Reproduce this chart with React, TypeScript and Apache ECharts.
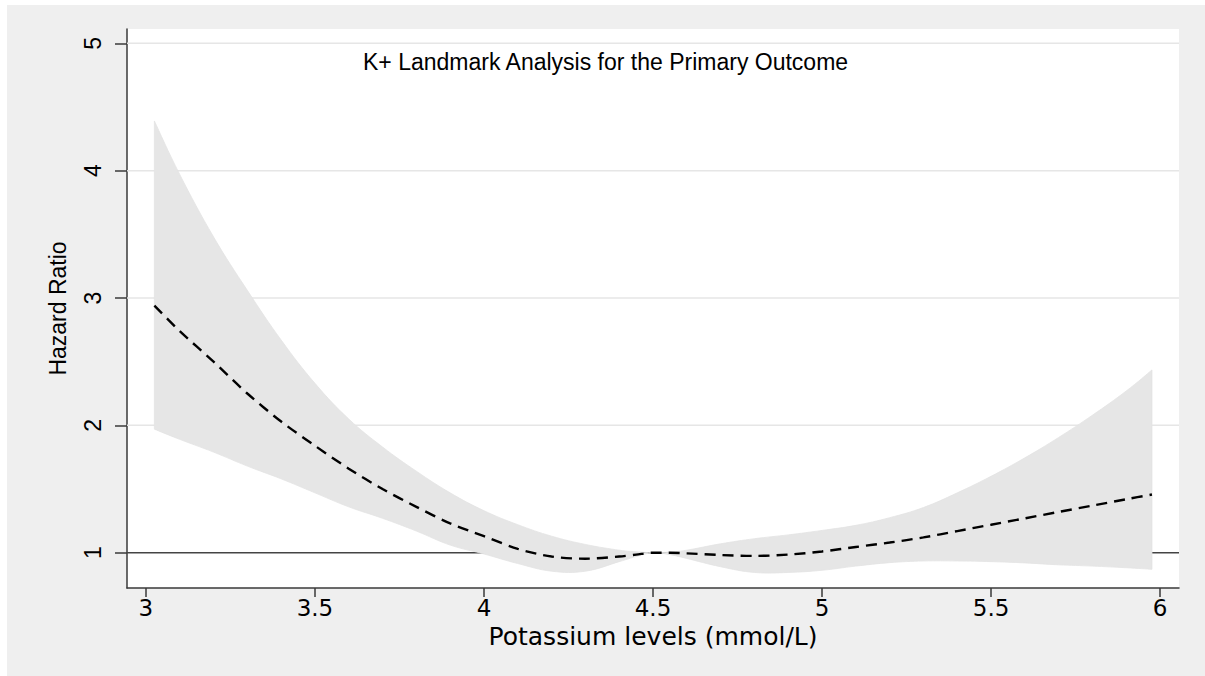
import React, { useEffect, useRef } from "react";
import * as echarts from "echarts";

// Potassium levels (x) at which the curves were read
const kx = [3.025, 3.1, 3.2, 3.3, 3.4, 3.5, 3.6, 3.7, 3.8, 3.9, 4.0, 4.1, 4.2, 4.3, 4.4, 4.45, 4.5, 4.55, 4.6, 4.7, 4.8, 4.9, 5.0, 5.1, 5.2, 5.3, 5.4, 5.5, 5.6, 5.7, 5.8, 5.9, 5.976];
// Hazard ratio (dashed line)
const hr = [2.94, 2.74, 2.5, 2.25, 2.03, 1.84, 1.66, 1.5, 1.36, 1.23, 1.13, 1.03, 0.97, 0.953, 0.97, 0.985, 1.0, 1.0, 0.995, 0.982, 0.975, 0.985, 1.01, 1.045, 1.08, 1.12, 1.17, 1.22, 1.27, 1.32, 1.37, 1.42, 1.457];
// Upper confidence bound
const hi = [4.39, 3.97, 3.48, 3.06, 2.67, 2.33, 2.05, 1.83, 1.64, 1.47, 1.33, 1.22, 1.13, 1.065, 1.02, 1.008, 1.0, 1.006, 1.02, 1.07, 1.11, 1.14, 1.175, 1.215, 1.275, 1.355, 1.47, 1.6, 1.745, 1.905, 2.08, 2.27, 2.435];
// Lower confidence bound
const lo = [1.97, 1.89, 1.79, 1.68, 1.58, 1.47, 1.36, 1.27, 1.17, 1.06, 0.99, 0.915, 0.855, 0.855, 0.93, 0.97, 1.0, 0.985, 0.955, 0.89, 0.845, 0.845, 0.862, 0.895, 0.922, 0.935, 0.935, 0.93, 0.92, 0.905, 0.895, 0.882, 0.87];

const xTicks = [3, 3.5, 4, 4.5, 5, 5.5, 6];
const yTicks = [1, 2, 3, 4, 5];
const gridLevels = [2, 3, 4, 5];
const refLevel = 1;

const titleText = "K+ Landmark Analysis for the Primary Outcome";
const xName = "Potassium levels (mmol/L)";
const yName = "Hazard Ratio";

// Catmull-Rom style cubic segments through pixel points (rendering only)
function curvePath(pts: number[][], start: boolean): string {
  let d = start ? `M${pts[0][0]},${pts[0][1]}` : `L${pts[0][0]},${pts[0][1]}`;
  const n = pts.length;
  const t = 0.2;
  for (let i = 0; i < n - 1; i++) {
    const p0 = pts[Math.max(0, i - 1)];
    const p1 = pts[i];
    const p2 = pts[i + 1];
    const p3 = pts[Math.min(n - 1, i + 2)];
    const c1x = p1[0] + (p2[0] - p0[0]) * t;
    const c1y = p1[1] + (p2[1] - p0[1]) * t;
    const c2x = p2[0] - (p3[0] - p1[0]) * t;
    const c2y = p2[1] - (p3[1] - p1[1]) * t;
    d += ` C${c1x},${c1y} ${c2x},${c2y} ${p2[0]},${p2[1]}`;
  }
  return d;
}

export default function App() {
  const ref = useRef<HTMLDivElement>(null);

  useEffect(() => {
    if (!ref.current) return;
    const chart = echarts.init(ref.current, undefined, { renderer: "svg" });
    const axisColor = "#3a3a3a";
    const levels = [...gridLevels.map((v) => ({ v, ref: false })), { v: refLevel, ref: true }];
    const option: any = {
      animation: false,
      backgroundColor: "#efefef",
      title: {
        text: titleText,
        left: 351,
        top: 40,
        textStyle: {
          fontFamily: "Liberation Sans",
          fontSize: 23,
          fontWeight: "normal",
          color: "#000",
        },
      },
      grid: {
        left: 120,
        top: 24,
        right: 26,
        bottom: 88,
        show: true,
        backgroundColor: "#ffffff",
        borderWidth: 0,
      },
      xAxis: {
        type: "value",
        min: 2.944,
        max: 6.056,
        name: xName,
        nameLocation: "middle",
        nameGap: 36,
        nameTextStyle: { fontFamily: "DejaVu Sans", fontSize: 25, color: "#000" },
        axisLine: { show: true, lineStyle: { color: axisColor, width: 1.5 } },
        axisTick: { show: true, length: 9, customValues: xTicks, lineStyle: { color: axisColor, width: 1.5 } },
        axisLabel: {
          customValues: xTicks,
          margin: 8,
          fontFamily: "DejaVu Sans",
          fontSize: 23,
          color: "#000",
        },
        splitLine: { show: false },
      },
      yAxis: {
        type: "value",
        min: 0.723,
        max: 5.112,
        name: yName,
        nameLocation: "middle",
        nameGap: 58,
        nameTextStyle: { fontFamily: "Liberation Sans", fontSize: 23, color: "#000" },
        axisLine: { show: true, lineStyle: { color: axisColor, width: 1.5 } },
        axisTick: { show: true, length: 12, customValues: yTicks, lineStyle: { color: axisColor, width: 1.5 } },
        axisLabel: {
          customValues: yTicks,
          rotate: 90,
          margin: 23,
          fontFamily: "Liberation Sans",
          fontSize: 23,
          color: "#000",
        },
        splitLine: { show: false },
      },
      series: [
        {
          name: "levels",
          type: "custom",
          data: levels.map((l) => [l.v]),
          z: 1,
          silent: true,
          renderItem: (params: any, api: any) => {
            const idx = params.dataIndex;
            const v = api.value(0);
            const cs = params.coordSys;
            const y = api.coord([4.5, v])[1];
            const isRef = levels[idx].ref;
            return {
              type: "line",
              shape: { x1: cs.x, y1: y, x2: cs.x + cs.width, y2: y },
              style: { stroke: isRef ? "#444" : "#e6e6e6", lineWidth: 1.5 },
              z2: isRef ? 2 : 1,
            };
          },
        },
        {
          name: "band",
          type: "custom",
          data: [0],
          z: 2,
          clip: true,
          silent: true,
          renderItem: (params: any, api: any) => {
            const upper = kx.map((x, i) => api.coord([x, hi[i]]));
            const lower = kx.map((x, i) => api.coord([x, lo[i]])).reverse();
            const d = curvePath(upper, true) + " " + curvePath(lower, false) + " Z";
            return {
              type: "path",
              shape: { pathData: d },
              style: { fill: "#e6e6e6", stroke: "#e3e3e3", lineWidth: 0.8 },
            };
          },
        },
        {
          name: "hr",
          type: "line",
          data: kx.map((x, i) => [x, hr[i]]),
          symbol: "none",
          smooth: 0.3,
          lineStyle: { color: "#000", width: 2.4, type: [11, 7] },
          z: 3,
        },
      ],
    };
    chart.setOption(option);
    return () => chart.dispose();
  }, []);

  return (
    <div style={{ position: "absolute", left: 0, top: 0, width: 1205, height: 676, background: "#fff" }}>
      <div ref={ref} style={{ position: "absolute", left: 7, top: 5, width: 1198, height: 671 }} />
    </div>
  );
}
